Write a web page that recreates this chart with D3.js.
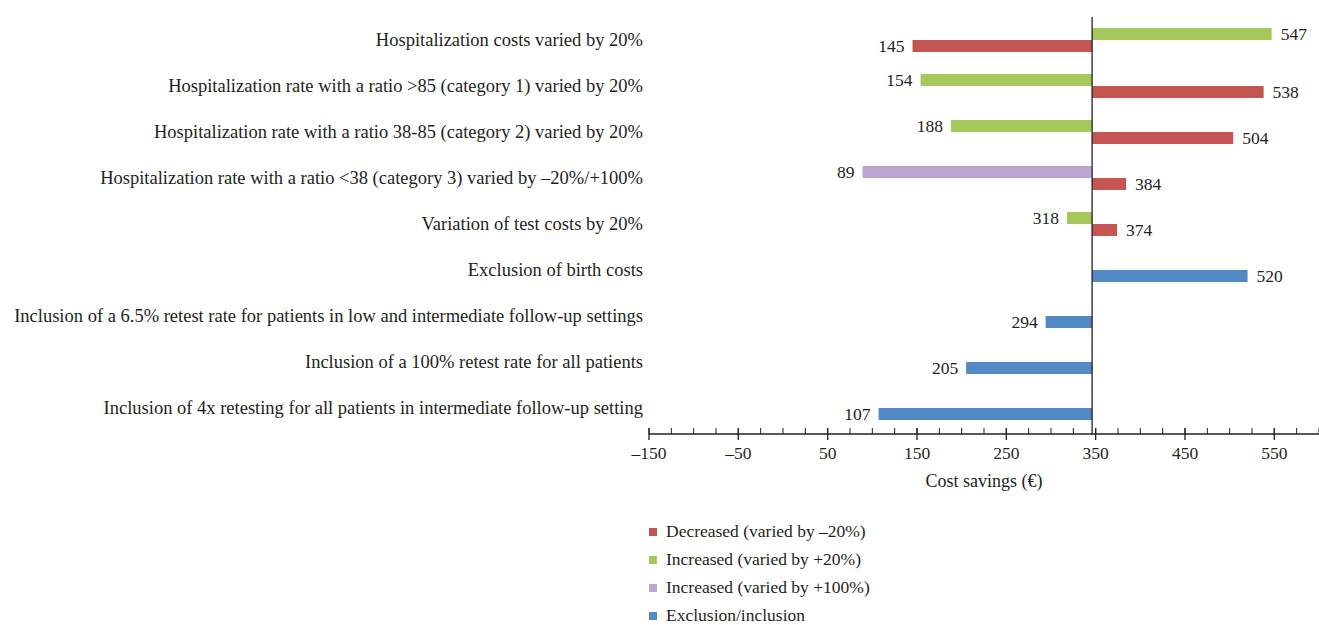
<!DOCTYPE html>
<html>
<head>
<meta charset="utf-8">
<script src="https://cdn.jsdelivr.net/npm/d3@7/dist/d3.min.js"></script>
<style>
  html, body { margin: 0; padding: 0; background: #fff; }
  svg text { font-family: "Liberation Serif", "DejaVu Serif", serif; fill: #231f20; }
</style>
</head>
<body>
<svg id="chart" width="1319" height="625"></svg>
<script>
// ---------------- data ----------------
const categories = [
  "Hospitalization costs varied by 20%",
  "Hospitalization rate with a ratio >85 (category 1) varied by 20%",
  "Hospitalization rate with a ratio 38-85 (category 2) varied by 20%",
  "Hospitalization rate with a ratio <38 (category 3) varied by \u201320%/+100%",
  "Variation of test costs by 20%",
  "Exclusion of birth costs",
  "Inclusion of a 6.5% retest rate for patients in low and intermediate follow-up settings",
  "Inclusion of a 100% retest rate for all patients",
  "Inclusion of 4x retesting for all patients in intermediate follow-up setting"
];
const baseValue = 346;
const decreased20  = [145, 538, 504, 384, 374, null, null, null, null];
const increased20  = [547, 154, 188, null, 318, null, null, null, null];
const increased100 = [null, null, null, 89, null, null, null, null, null];
const exclusion    = [null, null, null, null, null, 520, 294, 205, 107];
const xTicks = [-150, -50, 50, 150, 250, 350, 450, 550];
const legendLabels = [
  "Decreased (varied by \u201320%)",
  "Increased (varied by +20%)",
  "Increased (varied by +100%)",
  "Exclusion/inclusion"
];
const colors = ["#c55550", "#a5c85a", "#bca6d2", "#5288c3"];

// series: values, slot within category, colour
const series = [
  { values: decreased20,  slot: "lower", color: colors[0] },
  { values: increased20,  slot: "upper", color: colors[1] },
  { values: increased100, slot: "upper", color: colors[2] },
  { values: exclusion,    slot: "lower", color: colors[3] }
];

// ---------------- layout ----------------
const svg = d3.select("#chart");
const axisY = 434;

const x = d3.scaleLinear().domain([-150, 600]).range([649, 1319]);
const y = d3.scaleBand().domain(categories).range([17, 431]).padding(0);
const slot = d3.scaleBand().domain(["upper", "lower"]).range([0, y.bandwidth()])
  .paddingInner(0).paddingOuter(0.9167);

// bars
series.forEach(s => {
  const data = s.values.map((v, i) => ({ v, cat: categories[i] })).filter(d => d.v != null);
  svg.append("g").selectAll("rect").data(data).join("rect")
    .attr("x", d => Math.min(x(d.v), x(baseValue)))
    .attr("width", d => Math.abs(x(d.v) - x(baseValue)))
    .attr("y", d => y(d.cat) + slot(s.slot))
    .attr("height", slot.bandwidth())
    .attr("fill", s.color);
  svg.append("g").selectAll("text").data(data).join("text")
    .attr("x", d => d.v < baseValue ? x(d.v) - 8 : x(d.v) + 9)
    .attr("y", d => y(d.cat) + slot(s.slot) + slot.bandwidth() / 2)
    .attr("dy", "0.33em")
    .attr("text-anchor", d => d.v < baseValue ? "end" : "start")
    .style("font-size", "17.5px")
    .text(d => d.v);
});

// category labels
svg.append("g").selectAll("text").data(categories).join("text")
  .attr("x", 643)
  .attr("y", d => y(d) + y.bandwidth() / 2)
  .attr("dy", "0.3em")
  .attr("text-anchor", "end")
  .style("font-size", "18.5px")
  .text(d => d);

// baseline
svg.append("line")
  .attr("x1", x(baseValue)).attr("x2", x(baseValue))
  .attr("y1", 17).attr("y2", axisY)
  .attr("stroke", "#231f20").attr("stroke-width", 1.3);

// x axis
const gx = svg.append("g").attr("transform", `translate(0,${axisY})`);
gx.append("line").attr("x1", x.range()[0]).attr("x2", x.range()[1])
  .attr("stroke", "#231f20").attr("stroke-width", 1.3);
const minor = d3.range(-150, 601, 25);
gx.selectAll(".minor").data(minor).join("line")
  .attr("x1", d => x(d)).attr("x2", d => x(d))
  .attr("y1", -6).attr("y2", 0)
  .attr("stroke", "#231f20").attr("stroke-width", 1);
gx.selectAll(".major").data(xTicks).join("line")
  .attr("x1", d => x(d)).attr("x2", d => x(d))
  .attr("y1", -6).attr("y2", 6)
  .attr("stroke", "#231f20").attr("stroke-width", 1.3);
gx.selectAll(".tl").data(xTicks).join("text")
  .attr("x", d => x(d)).attr("y", 19)
  .attr("dy", "0.33em")
  .attr("text-anchor", "middle")
  .style("font-size", "17.5px")
  .text(d => d < 0 ? "\u2013" + Math.abs(d) : d);

svg.append("text")
  .attr("x", (x.range()[0] + x.range()[1]) / 2).attr("y", 481)
  .attr("dy", "0.33em").attr("text-anchor", "middle")
  .style("font-size", "18px")
  .text("Cost savings (\u20ac)");

// legend
const lg = svg.append("g").selectAll("g").data(legendLabels).join("g")
  .attr("transform", (d, i) => `translate(649,${532 + i * 28})`);
lg.append("rect").attr("x", 0).attr("y", -4).attr("width", 8).attr("height", 8)
  .attr("fill", (d, i) => colors[i]);
lg.append("text").attr("x", 17).attr("y", 0).attr("dy", "0.3em")
  .style("font-size", "17.5px").text(d => d);
</script>
</body>
</html>
